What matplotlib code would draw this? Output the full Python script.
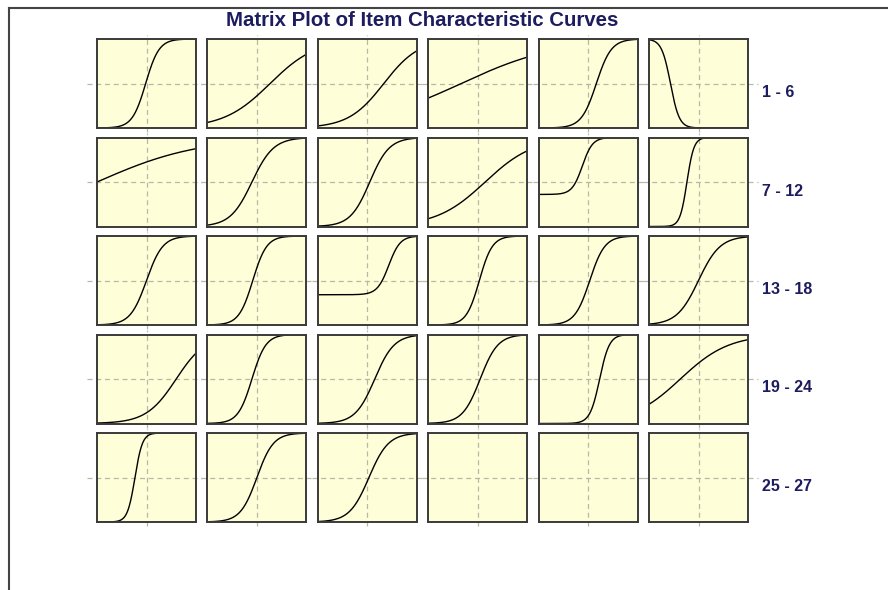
#!/usr/bin/env python3
"""Matrix plot of item characteristic curves (3PL items, 27 items in a 5x6 grid)."""

import numpy as np
import matplotlib.pyplot as plt
from matplotlib.lines import Line2D

# item parameters (discrimination, location, lower asymptote)
ITEM_A = [1.45, 0.42, 0.55, 0.20, 1.30, -2.20,
          0.19, 0.90, 1.00, 0.40, 1.90, 2.80,
          1.20, 1.40, 1.70, 1.50, 1.30, 0.90,
          0.65, 1.40, 1.00, 1.10, 2.00, 0.40,
          2.60, 1.18, 1.00]
ITEM_B = [-0.05, 0.80, 1.00, -1.00, 0.50, -1.70,
          -3.00, -0.30, 0.15, 0.45, -0.35, -0.70,
          0.00, -0.25, 1.30, 0.10, 0.10, 0.00,
          1.80, -0.30, 0.45, 0.15, 0.70, -1.10,
          -0.70, 0.00, 0.10]
ITEM_C = [0, 0, 0, 0, 0, 0,
          0, 0, 0, 0, 0.36, 0,
          0, 0, 0.34, 0, 0, 0,
          0, 0, 0, 0, 0, 0,
          0, 0, 0]
ROW_LABELS = ["1 - 6", "7 - 12", "13 - 18", "19 - 24", "25 - 27"]

THETA_MIN, THETA_MAX = -3, 3
N_ROWS, N_COLS = 5, 6

W, H = 888, 590
NAVY = "#1c1c5e"
PANEL = "#fefed8"
GRID = "#b8b8a6"


def icc(theta, a, b, c):
    return c + (1 - c) / (1 + np.exp(-1.7 * a * (theta - b)))


fig = plt.figure(figsize=(W / 100, H / 100), dpi=100)
fig.patch.set_facecolor("white")
plt.rcParams["font.family"] = ["Liberation Sans", "DejaVu Sans"]

# frame lines at top and left of the picture
fig.add_artist(Line2D([9 / W, 9 / W], [0, 1 - 8 / H], transform=fig.transFigure,
                      color="#444444", lw=1.5))
fig.add_artist(Line2D([9 / W, 1], [1 - 8 / H, 1 - 8 / H], transform=fig.transFigure,
                      color="#444444", lw=1.5))

fig.text(422 / W, 1 - 20 / H, "Matrix Plot of Item Characteristic Curves",
         ha="center", va="center", fontsize=14.7, fontweight="bold", color=NAVY)

theta = np.linspace(THETA_MIN, THETA_MAX, 300)
pw, ph = 99, 89
col_pitch, row_pitch = 110.4, 98.5

for r in range(N_ROWS):
    top = 39 + r * row_pitch
    for c in range(N_COLS):
        left = 97 + c * col_pitch
        ax = fig.add_axes([left / W, 1 - (top + ph) / H, pw / W, ph / H])
        ax.set_facecolor(PANEL)
        ax.set_xlim(THETA_MIN, THETA_MAX)
        ax.set_ylim(0, 1)
        ax.set_xticks([])
        ax.set_yticks([])
        for sp in ax.spines.values():
            sp.set_color("#3a3a3a")
            sp.set_linewidth(1.4)
            sp.set_zorder(4)

        x_ext = 0.1 if c in (0, N_COLS - 1) else 0.06
        ax.axhline(0.5, xmin=-0.06 if c else -x_ext, xmax=1 + (x_ext if c == N_COLS - 1 else 0.06),
                   clip_on=False, color=GRID, lw=0.9, ls=(0, (4, 3)), zorder=1)
        ax.axvline(0, ymin=-0.05, ymax=1.05, clip_on=False,
                   color=GRID, lw=0.9, ls=(0, (4, 3)), zorder=1)

        i = r * N_COLS + c
        if i < len(ITEM_A):
            ax.plot(theta, icc(theta, ITEM_A[i], ITEM_B[i], ITEM_C[i]),
                    color="black", lw=1.0, zorder=3)

    fig.text(762 / W, 1 - (top + ph / 2 + 9) / H, ROW_LABELS[r],
             ha="left", va="center", fontsize=11.5, fontweight="bold", color=NAVY)

fig.savefig("out.png", dpi=100)
